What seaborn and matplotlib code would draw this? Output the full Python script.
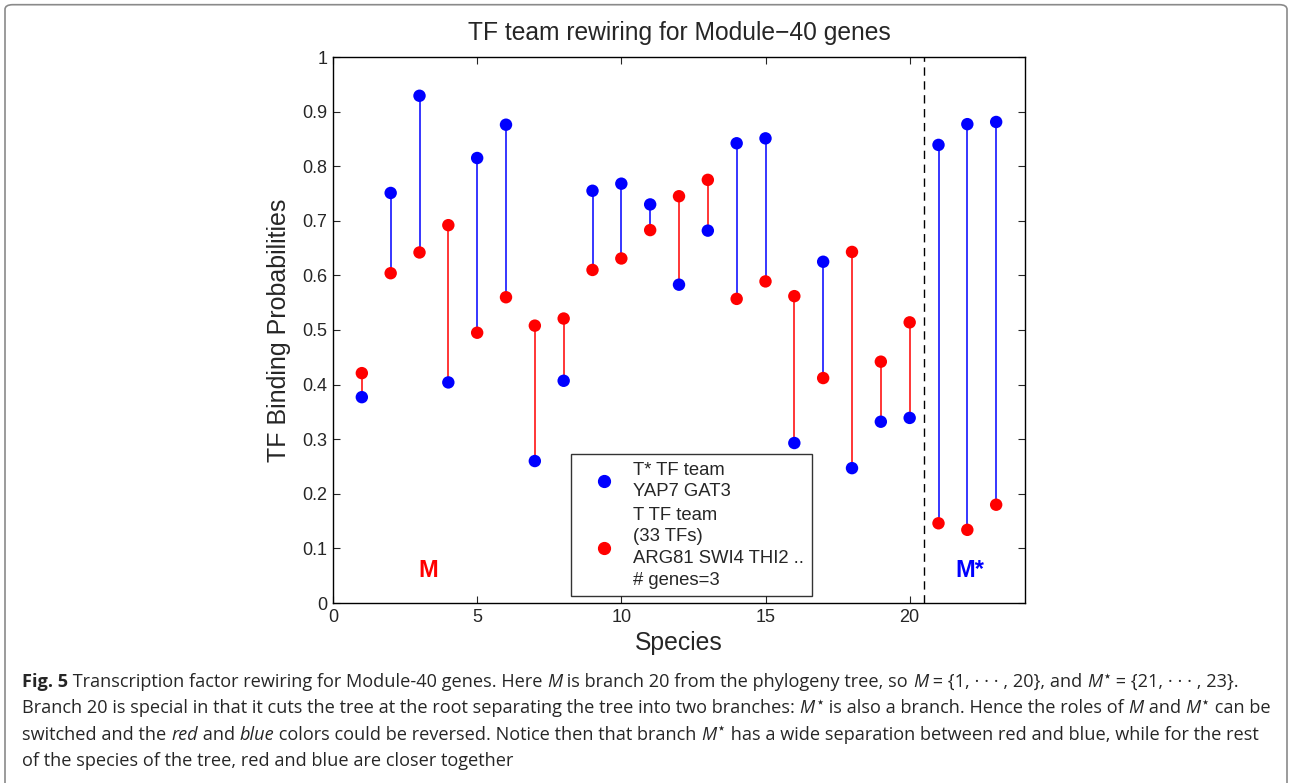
import numpy as np
import pandas as pd
import matplotlib
matplotlib.use("Agg")
import matplotlib.pyplot as plt
import seaborn as sns
from matplotlib.patches import FancyBboxPatch
from matplotlib.lines import Line2D

species = list(range(1, 24))
blue_vals = [0.377, 0.751, 0.929, 0.404, 0.815, 0.876, 0.260, 0.407, 0.755, 0.768,
             0.730, 0.583, 0.682, 0.842, 0.851, 0.293, 0.625, 0.247, 0.332, 0.339,
             0.839, 0.877, 0.881]
red_vals = [0.421, 0.604, 0.642, 0.692, 0.495, 0.560, 0.508, 0.521, 0.610, 0.631,
            0.683, 0.745, 0.775, 0.557, 0.589, 0.562, 0.412, 0.643, 0.442, 0.514,
            0.146, 0.134, 0.180]
xticks = [0, 5, 10, 15, 20]
yticks = [0, 0.1, 0.2, 0.3, 0.4, 0.5, 0.6, 0.7, 0.8, 0.9, 1]
ytick_labels = ["0", "0.1", "0.2", "0.3", "0.4", "0.5", "0.6", "0.7", "0.8", "0.9", "1"]
title = "TF team rewiring for Module\u221240 genes"
legend_labels = ["T* TF team\nYAP7 GAT3", "T TF team\n(33 TFs)\nARG81 SWI4 THI2 ..\n# genes=3"]
split_at = 20.5

sns.set_style("ticks")
plt.rcParams["font.family"] = ["Liberation Sans", "DejaVu Sans"]

df = pd.DataFrame({"species": species, "blue": blue_vals, "red": red_vals})
df["top_color"] = np.where(df["blue"] >= df["red"], "#0000ff", "#ff0000")

fig = plt.figure(figsize=(12.92, 7.83), dpi=100)
ax = fig.add_axes([333 / 1292, 1 - 603 / 783, 692 / 1292, 546 / 783])

ax.vlines(df["species"], np.minimum(df["blue"], df["red"]), np.maximum(df["blue"], df["red"]),
          colors=df["top_color"], linewidth=1.1, zorder=2)
sns.scatterplot(data=df, x="species", y="blue", color="#0000ff", s=80, edgecolor="none",
                ax=ax, zorder=3, legend=False)
sns.scatterplot(data=df, x="species", y="red", color="#ff0000", s=80, edgecolor="none",
                ax=ax, zorder=3, legend=False)
ax.axvline(split_at, color="black", linestyle=(0, (6, 4)), linewidth=1)

ax.set_xlim(0, 24)
ax.set_ylim(0, 1)
ax.set_xticks(xticks)
ax.set_yticks(yticks)
ax.set_yticklabels(ytick_labels)
ax.tick_params(direction="in", top=True, right=True, labelsize=13, length=5, width=0.8, pad=4)
for s in ax.spines.values():
    s.set_visible(True)
    s.set_linewidth(1.0)
    s.set_color("black")
ax.set_xlabel("Species", fontsize=17.8, labelpad=4)
ax.set_ylabel("TF Binding Probabilities", fontsize=18, labelpad=8)
ax.set_title(title, fontsize=17.7, pad=12)

ax.text(3.3, 0.06, "M", color="#ff0000", fontsize=17, fontweight="bold", ha="center", va="center")
ax.text(22.1, 0.06, "M*", color="#0000ff", fontsize=17, fontweight="bold", ha="center", va="center")

handles = [Line2D([], [], marker="o", linestyle="none", color="#0000ff", markersize=8.5),
           Line2D([], [], marker="o", linestyle="none", color="#ff0000", markersize=8.5)]
leg = ax.legend(handles, legend_labels, loc="lower left", bbox_to_anchor=(0.344, 0.013),
                fontsize=13.3, frameon=True, fancybox=False, edgecolor="black",
                borderpad=0.4, handletextpad=0.23, labelspacing=0.35, handlelength=2.75,
                borderaxespad=0)
leg.get_frame().set_linewidth(1.0)
for t in leg.get_texts():
    t.set_linespacing(1.35)

# figure border
border = FancyBboxPatch((5 / 1292, -0.05), 1282 / 1292, 1.044, boxstyle="round,pad=0,rounding_size=0.006",
                        transform=fig.transFigure, facecolor="none", edgecolor="#8a8a8a",
                        linewidth=1.2, clip_on=False)
fig.patches.append(border)

# caption drawn as sequential segments
renderer = fig.canvas.get_renderer()
CAP = 13.1
FAM = ["Open Sans", "DejaVu Sans"]
N = {}
B = {"fontweight": "bold"}
I = {"fontstyle": "italic"}
SUP = {"size": 0.8, "dy": 6}


def seg_width(text, props):
    t1 = fig.text(0, 0, "x" + text + "x", **props)
    w1 = t1.get_window_extent(renderer).width
    t1.remove()
    t2 = fig.text(0, 0, "xx", **props)
    w2 = t2.get_window_extent(renderer).width
    t2.remove()
    return w1 - w2


def draw_line(x_px, y_px, segs):
    x = x_px
    for text, style in segs:
        style = dict(style)
        scale = style.pop("size", 1.0)
        dy = style.pop("dy", 0)
        props = dict(fontsize=CAP * scale, family=FAM, **style)
        fig.text(x / 1292, 1 - (y_px - dy) / 783, text, ha="left", va="baseline", **props)
        x += seg_width(text, props)


STAR = "\u22c6"
lines = [
    [("Fig. 5", B), (" Transcription factor rewiring for Module-40 genes. Here ", N), ("M", I),
     (" is branch 20 from the phylogeny tree, so ", N), ("M", I), (" = {1, \u00b7 \u00b7 \u00b7 , 20}, and ", N),
     ("M", I), (STAR, SUP), (" = {21, \u00b7 \u00b7 \u00b7 , 23}.", N)],
    [("Branch 20 is special in that it cuts the tree at the root separating the tree into two branches: ", N),
     ("M", I), (STAR, SUP), (" is also a branch. Hence the roles of ", N), ("M", I), (" and ", N),
     ("M", I), (STAR, SUP), (" can be", N)],
    [("switched and the ", N), ("red", I), (" and ", N), ("blue", I),
     (" colors could be reversed. Notice then that branch ", N), ("M", I), (STAR, SUP),
     (" has a wide separation between red and blue, while for the rest", N)],
    [("of the species of the tree, red and blue are closer together", N)],
]
for i, segs in enumerate(lines):
    draw_line(22, 687 + i * 26.3, segs)

fig.savefig("out.png", dpi=100)
